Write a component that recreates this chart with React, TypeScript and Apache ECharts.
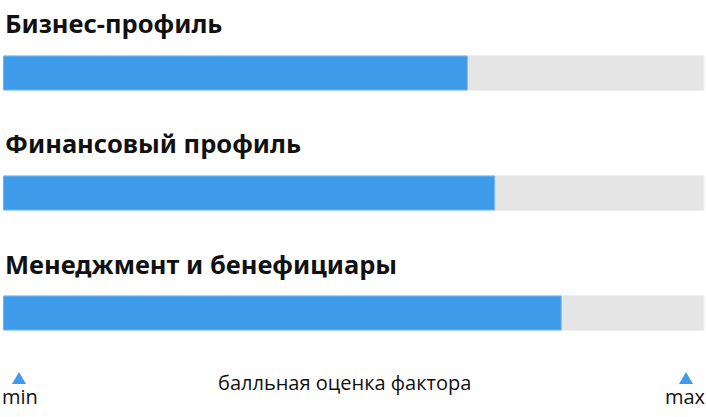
import React, { useEffect, useRef } from 'react';
import * as echarts from 'echarts';

const factors = ['Бизнес-профиль', 'Финансовый профиль', 'Менеджмент и бенефициары'];
const scores = [66.3, 70.2, 79.7];
const scaleMin = 0;
const scaleMax = 100;
const axisCaption = 'балльная оценка фактора';
const minLabel = 'min';
const maxLabel = 'max';

const BLUE = '#3d9be9';
const GRAY = '#e5e5e5';
const barTops = [55, 175, 295];
const titleTops = [10, 130, 251];

export default function App() {
  const ref = useRef<HTMLDivElement>(null);

  useEffect(() => {
    if (!ref.current) return;
    const chart = echarts.init(ref.current, undefined, { renderer: 'svg' });

    const option: any = {
      animation: false,
      title: factors.map((name, i) => ({
        text: name,
        left: 5,
        top: titleTops[i],
        padding: 0,
        textStyle: {
          fontFamily: 'Noto Sans',
          fontSize: 25.5,
          fontWeight: 'bold',
          color: '#111111'
        }
      })),
      grid: factors.map((_, i) => ({
        left: 3,
        right: 2,
        top: barTops[i],
        height: 36
      })),
      xAxis: factors.map((_, i) => ({
        type: 'value',
        gridIndex: i,
        min: scaleMin,
        max: scaleMax,
        show: false
      })),
      yAxis: factors.map((name, i) => ({
        type: 'category',
        gridIndex: i,
        data: [name],
        show: false
      })),
      series: factors.map((name, i) => ({
        type: 'bar',
        name,
        xAxisIndex: i,
        yAxisIndex: i,
        data: [scores[i]],
        barWidth: 35,
        showBackground: true,
        backgroundStyle: {
          color: GRAY,
          borderColor: '#eeeeee',
          borderWidth: 1
        },
        itemStyle: {
          color: BLUE,
          borderColor: '#72b6ef',
          borderWidth: 1
        }
      })),
      graphic: [
        {
          type: 'polygon',
          shape: { points: [[19, 372], [12, 384], [26, 384]] },
          style: { fill: BLUE }
        },
        {
          type: 'polygon',
          shape: { points: [[686, 372], [679, 384], [693, 384]] },
          style: { fill: BLUE }
        },
        {
          type: 'text',
          left: 2,
          top: 386,
          style: { text: minLabel, font: '20px "Open Sans"', fill: '#111111' }
        },
        {
          type: 'text',
          right: 1,
          top: 386,
          style: { text: maxLabel, font: '20px "Open Sans"', fill: '#111111' }
        },
        {
          type: 'text',
          left: 218,
          top: 372,
          style: { text: axisCaption, font: '20px "Open Sans"', fill: '#111111' }
        }
      ]
    };

    chart.setOption(option);
    return () => chart.dispose();
  }, []);

  return (
    <div
      ref={ref}
      style={{ position: 'fixed', left: 0, top: 0, width: 706, height: 417, background: '#ffffff' }}
    />
  );
}
